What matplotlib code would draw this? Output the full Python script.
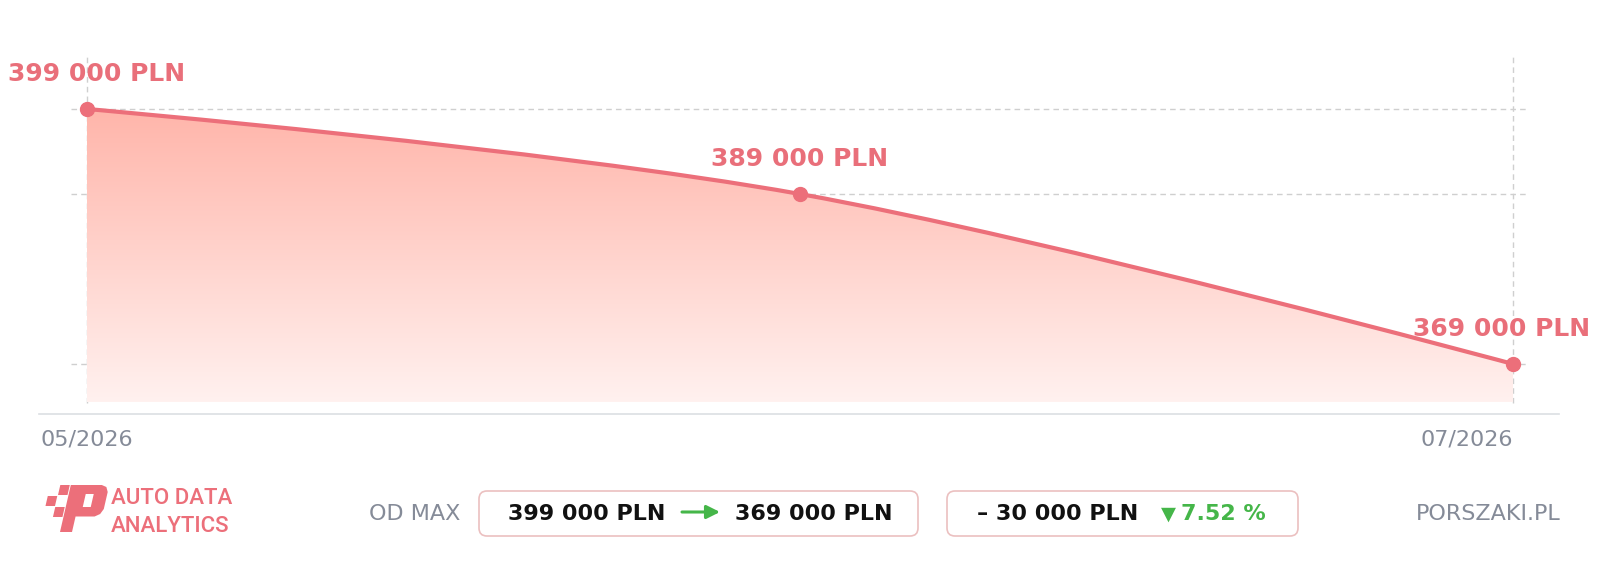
import numpy as np
import matplotlib
matplotlib.use('Agg')
import matplotlib.pyplot as plt
from matplotlib.path import Path
from matplotlib.patches import PathPatch, FancyBboxPatch, Polygon
from matplotlib.colors import LinearSegmentedColormap

# ── Data ──────────────────────────────────────────────────────────────────────
months = ['05/2026', '06/2026', '07/2026']
prices = [399000, 389000, 369000]
currency = 'PLN'
brand_lines = ['AUTO DATA', 'ANALYTICS']
range_label = 'OD MAX'
source = 'PORSZAKI.PL'

RED = '#ec6f7a'
LABEL_RED = '#e96f7a'
GREY_TXT = '#858b98'
GREEN = '#45b649'
GRID = '#cfcfcf'
INK = '#111111'


def fmt(v):
    return f'{v:,.0f}'.replace(',', ' ') + ' ' + currency


W, H = 1600, 569
fig = plt.figure(figsize=(16, 5.69), dpi=100)

# ── Main chart ────────────────────────────────────────────────────────────────
ax = fig.add_axes([39 / W, (H - 414) / H, 1520 / W, (414 - 40) / H])
x = np.arange(len(prices), dtype=float)
y = np.array(prices, dtype=float)
base = 364500          # bottom of the gradient area

# smooth curve (chart.js-like tension)
t = 0.35
verts = [(x[0], y[0])]
codes = [Path.MOVETO]
for i in range(len(x) - 1):
    p0 = np.array([x[i], y[i]])
    p1 = np.array([x[i + 1], y[i + 1]])
    c1 = p0 if i == 0 else p0 + t / 2 * (p1 - np.array([x[i - 1], y[i - 1]]))
    c2 = p1 if i + 1 == len(x) - 1 else p1 - t / 2 * (np.array([x[i + 2], y[i + 2]]) - p0)
    verts += [tuple(c1), tuple(c2), tuple(p1)]
    codes += [Path.CURVE4] * 3

fill_path = Path(verts + [(x[-1], base), (x[0], base), (x[0], y[0])],
                 codes + [Path.LINETO, Path.LINETO, Path.CLOSEPOLY])
clip = PathPatch(fill_path, facecolor='none', edgecolor='none')
ax.add_patch(clip)
cmap = LinearSegmentedColormap.from_list('grad', ['#fff1ef', '#ffb5aa'])
grad = np.linspace(0, 1, 256).reshape(-1, 1)
im = ax.imshow(grad, extent=[x[0], x[-1], base, y.max()], origin='lower',
               aspect='auto', cmap=cmap, zorder=1, interpolation='bilinear')
im.set_clip_path(clip)

ax.add_patch(PathPatch(Path(verts, codes), fill=False, edgecolor=RED, lw=3,
                       capstyle='round', joinstyle='round', zorder=3))
ax.plot(x, y, 'o', ms=10, color=RED, zorder=4)

# dashed guides
ax.hlines(y, -0.0224, 2.018, colors=GRID, linestyles=(0, (4, 3)), lw=1, zorder=0)
ax.vlines([x[0], x[-1]], 364412, 405235, colors=GRID, linestyles=(0, (4, 3)), lw=1, zorder=0)

ax.set_xlim(-0.0673, 2.0645)
ax.set_ylim(363118, 407118)

# value labels
offsets = [(-79, 28, 'left'), (0, 28, 'center'), (77, 28, 'right')]
for xi, yi, (dx, dy, ha) in zip(x, y, offsets):
    ax.annotate(fmt(yi), (xi, yi), xytext=(dx, dy), textcoords='offset pixels',
                ha=ha, va='baseline', fontsize=18, fontweight='bold',
                color=LABEL_RED, zorder=5)

ax.set_xticks([x[0], x[-1]])
ax.set_xticklabels([months[0], months[-1]], fontsize=16, color=GREY_TXT)
ax.get_xticklabels()[-1].set_ha('right')
ax.tick_params(axis='x', length=0, pad=11)
ax.set_yticks([])
for s in ['top', 'left', 'right']:
    ax.spines[s].set_visible(False)
ax.spines['bottom'].set_color('#dcdfe3')
ax.spines['bottom'].set_linewidth(1.2)
ax.set_facecolor('none')

# ── Footer (pixel coordinates) ────────────────────────────────────────────────
fax = fig.add_axes([0, 0, 1, 1])
fax.set_xlim(0, W)
fax.set_ylim(H, 0)
fax.axis('off')
fax.set_facecolor('none')

# logo icon
k = 0.23


def shear(pts):
    return [(px + (532 - py) * k, py) for px, py in pts]


p_outer = [(60, 532), (60, 485), (91, 485), (96, 487), (98.5, 492), (98.5, 509),
           (96, 514), (91, 516.5), (72, 516.5), (72, 532)]
p_hole = [(77, 494), (77, 507), (85, 507), (85, 494)]
pv = shear(p_outer) + [(0, 0)] + shear(p_hole) + [(0, 0)]
pc = ([Path.MOVETO] + [Path.LINETO] * (len(p_outer) - 1) + [Path.CLOSEPOLY]
      + [Path.MOVETO] + [Path.LINETO] * (len(p_hole) - 1) + [Path.CLOSEPOLY])
fax.add_patch(PathPatch(Path(pv, pc), facecolor=RED, edgecolor='none'))
for sx, sy in [(49.5, 485), (39.5, 496), (49.5, 507)]:
    sq = [(sx, sy), (sx + 9.5, sy), (sx + 9.5, sy + 10), (sx, sy + 10)]
    fax.add_patch(Polygon(shear(sq), closed=True, facecolor=RED, edgecolor='none'))

fax.text(111, 504, brand_lines[0], fontsize=16, color=RED, family='Roboto',
         fontweight='medium', va='baseline')
fax.text(111, 532, brand_lines[1], fontsize=16, color=RED, family='Roboto',
         fontweight='medium', va='baseline')

base_y = 520
fax.text(369, base_y, range_label, fontsize=16, color=GREY_TXT, va='baseline')

box_kw = dict(boxstyle='round,pad=0,rounding_size=8', ec='#ebc0c0', fc='white', lw=1.2)
fax.add_patch(FancyBboxPatch((479, 491), 439, 45, **box_kw))
fax.add_patch(FancyBboxPatch((947, 491), 351, 45, **box_kw))

fax.text(508, base_y, fmt(prices[0]), fontsize=16, fontweight='bold', color=INK, va='baseline')
fax.annotate('', xy=(720, 512), xytext=(682, 512),
             arrowprops=dict(arrowstyle='-|>,head_length=0.8,head_width=0.4',
                             color=GREEN, lw=2.2, shrinkA=0, shrinkB=0))
fax.text(735, base_y, fmt(prices[-1]), fontsize=16, fontweight='bold', color=INK, va='baseline')

diff = prices[-1] - prices[0]
pct = abs(diff) / prices[0] * 100
fax.text(977, base_y, '– ' + fmt(abs(diff)), fontsize=16, fontweight='bold', color=INK, va='baseline')
fax.text(1161, base_y, '▼', fontsize=14, color=GREEN, va='baseline')
fax.text(1181, base_y, f'{pct:.2f} %', fontsize=16, fontweight='bold', color=GREEN, va='baseline')

fax.text(1561, base_y, source, fontsize=16, color=GREY_TXT, ha='right', va='baseline')

fig.savefig('out.png', dpi=100)
